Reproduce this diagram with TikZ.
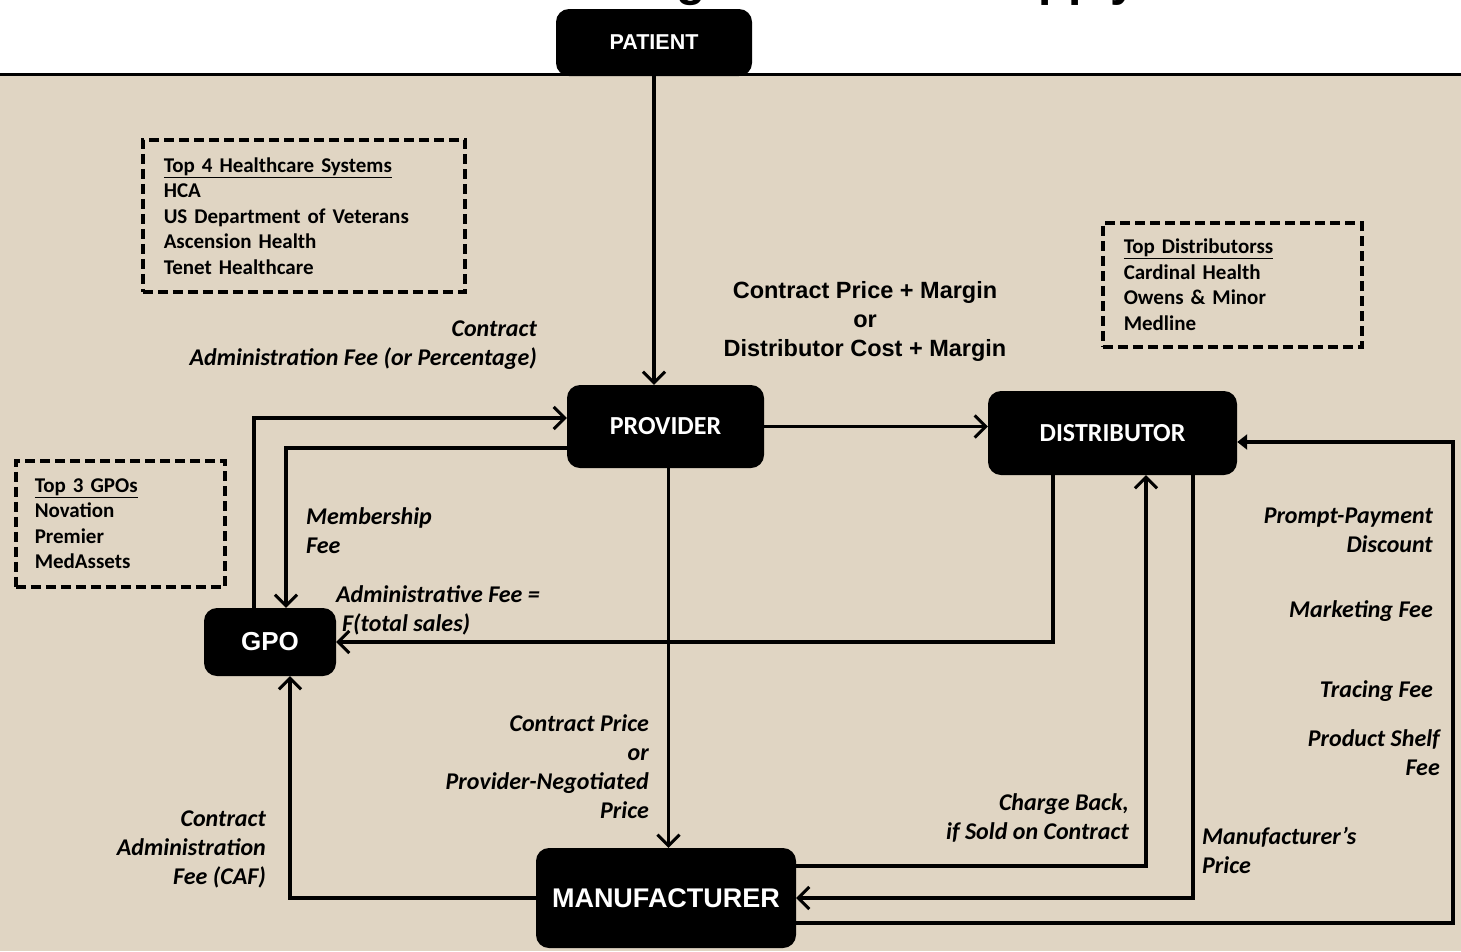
\documentclass[tikz,border=0pt]{standalone}
\usepackage{fontspec}
\setmainfont{Liberation Sans}
\newfontfamily\calfont{Carlito}
\usetikzlibrary{arrows.meta}
\definecolor{parchment}{RGB}{224,213,195}

\begin{document}
\begin{tikzpicture}[x=1pt,y=-1pt,
  blk/.style={fill=black, rounded corners=13pt, text=white, inner sep=0pt},
  flow/.style={line width=3.5pt, -{Straight Barb[length=11pt,width=22pt,line width=3pt]}},
  fillflow/.style={line width=3.5pt, -{Triangle[length=10pt,width=15pt]}},
  lbl/.style={font=\calfont\bfseries\itshape\fontsize{24}{29}\selectfont, inner sep=0pt},
  mid/.style={font=\bfseries\fontsize{23.5}{29}\selectfont, inner sep=0pt, align=center},
  lst/.style={draw, line width=3.5pt, dash pattern=on 10pt off 5pt,
    font=\calfont\bfseries\fontsize{21}{25.5}\selectfont, align=left,
    anchor=north west, inner ysep=0pt}
]
\useasboundingbox (0,0) rectangle (1461,951);

% page: white header strip, rule, beige body
\fill[white] (0,0) rectangle (1461,951);
\fill[parchment] (0,75) rectangle (1461,951);
\draw[line width=3pt] (0,74) -- (1461,74);

% heading, running off the top edge
\begin{scope}
  \clip (0,0) rectangle (1461,951);
  \node[anchor=base west, inner sep=0pt, font=\bfseries\fontsize{48}{56}\selectfont]
    (title) at (436,-4.5) {Contracting Healthcare Supply Chain};
\end{scope}

% main parties
\node[blk, minimum width=196pt, minimum height=67pt,
  font=\bfseries\fontsize{21.5}{26}\selectfont] (patient) at (654,42.5) {PATIENT};
\node[blk, minimum width=197pt, minimum height=83pt,
  font=\calfont\bfseries\fontsize{26}{30}\selectfont] (provider) at (665.5,426.5) {PROVIDER};
\node[blk, minimum width=249pt, minimum height=84pt,
  font=\calfont\bfseries\fontsize{26}{30}\selectfont] (distributor) at (1112.5,433) {DISTRIBUTOR};
\node[blk, minimum width=132pt, minimum height=68pt,
  font=\bfseries\fontsize{26}{30}\selectfont] (gpo) at (270,642) {GPO};
\node[blk, minimum width=260pt, minimum height=100pt,
  font=\bfseries\fontsize{27}{32}\selectfont] (manufacturer) at (666,898) {MANUFACTURER};

% market leaders
\node[lst, minimum width=322pt, minimum height=152pt, text width=280pt, inner xsep=21pt]
  (systems) at (141,138)
  {\underline{Top 4 Healthcare Systems}\\HCA\\US Department of Veterans\\Ascension Health\\Tenet Healthcare};
\node[lst, minimum width=259pt, minimum height=124pt, text width=217pt, inner xsep=21pt]
  (distlist) at (1101,221)
  {\underline{Top Distributorss}\\Cardinal Health\\Owens \& Minor\\Medline};
\node[lst, minimum width=209pt, minimum height=126pt, text width=171pt, inner xsep=19pt]
  (gpolist) at (14,459)
  {\underline{Top 3 GPOs}\\Novation\\Premier\\MedAssets};

% flows of goods and money
\draw[flow] (patient.south) -- (patient.south |- provider.north);
\draw[flow] (provider.east) -- (provider.east -| distributor.west);
\draw[flow] ([xshift=-16pt]gpo.north) |- ([yshift=8.5pt]provider.west);
\draw[flow] ([yshift=-21.5pt]provider.west) -| ([xshift=16pt]gpo.north);
\draw[flow] ([xshift=-59.5pt]distributor.south) |- (gpo.east);
\draw[flow] ([xshift=3pt]provider.south) -- ([xshift=3pt]provider.south |- manufacturer.north);
\draw[flow] (manufacturer.west) -| ([xshift=20pt]gpo.south);
\draw[flow] ([yshift=32pt]manufacturer.east) -| ([xshift=33.5pt]distributor.south);
\draw[flow] ([xshift=80.5pt]distributor.south) |- (manufacturer.east);
\coordinate (loopx) at (1453,0);
\coordinate (mfgout) at ([yshift=-25pt]manufacturer.east);
\coordinate (distin) at ([yshift=-9pt]distributor.east);
\draw[fillflow] (mfgout) -- (mfgout -| loopx) -- (distin -| loopx) -- (distin);

% flow labels
\node[mid] (price) at (865,321) {Contract Price + Margin\\or\\Distributor Cost + Margin};
\node[lbl, align=right, anchor=east] (caf1) at (537,345.5) {Contract\\Administration Fee (or Percentage)};
\node[lbl, align=left, anchor=west] (member) at (306,530.5) {Membership\\Fee};
\node[lbl, align=left, anchor=west] (adminfee) at (336,610) {Administrative Fee =\\\hspace*{6pt}F(total sales)};
\node[lbl, align=right, anchor=east] (cprice) at (649,766.5) {Contract Price\\or\\Provider-Negotiated\\Price};
\node[lbl, align=right, anchor=east] (caf2) at (266,849) {Contract\\Administration\\Fee (CAF)};
\node[lbl, align=right, anchor=east] (chargeback) at (1129,818) {Charge Back,\\if Sold on Contract};
\node[lbl, align=left, anchor=west] (mprice) at (1202,850) {Manufacturer’s\\Price};
\node[lbl, align=right, anchor=east] (prompt) at (1433,530) {Prompt-Payment\\Discount};
\node[lbl, anchor=east] (marketing) at (1433,611) {Marketing Fee};
\node[lbl, anchor=east] (tracing) at (1433,691) {Tracing Fee};
\node[lbl, align=right, anchor=east] (shelf) at (1440,753) {Product Shelf\\Fee};
\end{tikzpicture}
\end{document}
